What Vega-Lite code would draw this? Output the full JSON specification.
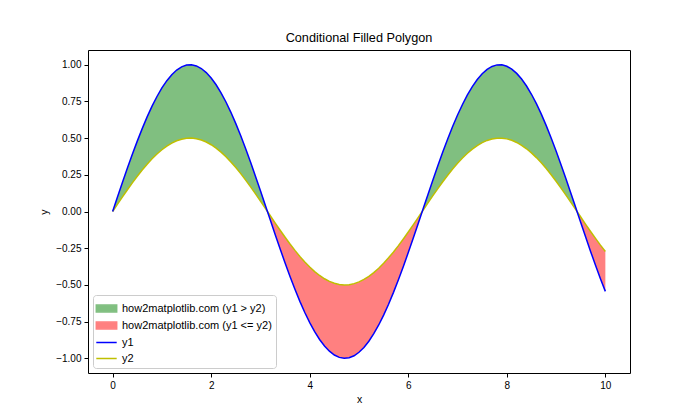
{
  "$schema": "https://vega.github.io/schema/vega-lite/v6.json",
  "width": 542,
  "height": 323,
  "autosize": {"type": "none"},
  "padding": {"left": 88, "top": 50, "right": 70, "bottom": 47},
  "title": {"text": "Conditional Filled Polygon", "fontSize": 12.7, "fontWeight": "normal", "font": "Liberation Sans", "color": "#000", "offset": 5},
  "config": {
    "view": {"stroke": "#000", "strokeWidth": 1},
    "font": "Liberation Sans",
    "axis": {"domain": false, "grid": false, "tickColor": "#000", "tickSize": 4, "labelColor": "#000", "labelFontSize": 10, "labelPadding": 3, "titleColor": "#000", "titleFontSize": 10.5, "titleFontWeight": "normal", "labelFont": "Liberation Sans", "titleFont": "Liberation Sans"}
  },
  "data": {"values": [
    {"x":0,"y1":0,"y2":0,"p":1,"f":"g"},
    {"x":0.1,"y1":0.0998,"y2":0.0499,"p":1,"f":"g"},
    {"x":0.2,"y1":0.1987,"y2":0.0993,"p":1,"f":"g"},
    {"x":0.3,"y1":0.2955,"y2":0.1478,"p":1,"f":"g"},
    {"x":0.4,"y1":0.3894,"y2":0.1947,"p":1,"f":"g"},
    {"x":0.5,"y1":0.4794,"y2":0.2397,"p":1,"f":"g"},
    {"x":0.6,"y1":0.5646,"y2":0.2823,"p":1,"f":"g"},
    {"x":0.7,"y1":0.6442,"y2":0.3221,"p":1,"f":"g"},
    {"x":0.8,"y1":0.7174,"y2":0.3587,"p":1,"f":"g"},
    {"x":0.9,"y1":0.7833,"y2":0.3917,"p":1,"f":"g"},
    {"x":1.0,"y1":0.8415,"y2":0.4207,"p":1,"f":"g"},
    {"x":1.1,"y1":0.8912,"y2":0.4456,"p":1,"f":"g"},
    {"x":1.2,"y1":0.9320,"y2":0.4660,"p":1,"f":"g"},
    {"x":1.3,"y1":0.9636,"y2":0.4818,"p":1,"f":"g"},
    {"x":1.4,"y1":0.9854,"y2":0.4927,"p":1,"f":"g"},
    {"x":1.5,"y1":0.9975,"y2":0.4987,"p":1,"f":"g"},
    {"x":1.6,"y1":0.9996,"y2":0.4998,"p":1,"f":"g"},
    {"x":1.7,"y1":0.9917,"y2":0.4958,"p":1,"f":"g"},
    {"x":1.8,"y1":0.9738,"y2":0.4869,"p":1,"f":"g"},
    {"x":1.9,"y1":0.9463,"y2":0.4732,"p":1,"f":"g"},
    {"x":2.0,"y1":0.9093,"y2":0.4546,"p":1,"f":"g"},
    {"x":2.1,"y1":0.8632,"y2":0.4316,"p":1,"f":"g"},
    {"x":2.2,"y1":0.8085,"y2":0.4043,"p":1,"f":"g"},
    {"x":2.3,"y1":0.7457,"y2":0.3729,"p":1,"f":"g"},
    {"x":2.4,"y1":0.6755,"y2":0.3377,"p":1,"f":"g"},
    {"x":2.5,"y1":0.5985,"y2":0.2992,"p":1,"f":"g"},
    {"x":2.6,"y1":0.5155,"y2":0.2578,"p":1,"f":"g"},
    {"x":2.7,"y1":0.4274,"y2":0.2137,"p":1,"f":"g"},
    {"x":2.8,"y1":0.3350,"y2":0.1675,"p":1,"f":"g"},
    {"x":2.9,"y1":0.2392,"y2":0.1196,"p":1,"f":"g"},
    {"x":3.0,"y1":0.1411,"y2":0.0706,"p":1,"f":"g"},
    {"x":3.1,"y1":0.0416,"y2":0.0208,"p":1,"f":"g"},
    {"x":3.1416,"y1":0,"y2":0,"p":1,"f":"g"},
    {"x":3.1416,"y1":0,"y2":0,"p":2,"f":"r"},
    {"x":3.2,"y1":-0.0584,"y2":-0.0292,"p":2,"f":"r"},
    {"x":3.3,"y1":-0.1577,"y2":-0.0789,"p":2,"f":"r"},
    {"x":3.4,"y1":-0.2555,"y2":-0.1278,"p":2,"f":"r"},
    {"x":3.5,"y1":-0.3508,"y2":-0.1754,"p":2,"f":"r"},
    {"x":3.6,"y1":-0.4425,"y2":-0.2213,"p":2,"f":"r"},
    {"x":3.7,"y1":-0.5298,"y2":-0.2649,"p":2,"f":"r"},
    {"x":3.8,"y1":-0.6119,"y2":-0.3059,"p":2,"f":"r"},
    {"x":3.9,"y1":-0.6878,"y2":-0.3439,"p":2,"f":"r"},
    {"x":4.0,"y1":-0.7568,"y2":-0.3784,"p":2,"f":"r"},
    {"x":4.1,"y1":-0.8183,"y2":-0.4091,"p":2,"f":"r"},
    {"x":4.2,"y1":-0.8716,"y2":-0.4358,"p":2,"f":"r"},
    {"x":4.3,"y1":-0.9162,"y2":-0.4581,"p":2,"f":"r"},
    {"x":4.4,"y1":-0.9516,"y2":-0.4758,"p":2,"f":"r"},
    {"x":4.5,"y1":-0.9775,"y2":-0.4888,"p":2,"f":"r"},
    {"x":4.6,"y1":-0.9937,"y2":-0.4969,"p":2,"f":"r"},
    {"x":4.7,"y1":-0.9999,"y2":-0.4999,"p":2,"f":"r"},
    {"x":4.8,"y1":-0.9962,"y2":-0.4981,"p":2,"f":"r"},
    {"x":4.9,"y1":-0.9825,"y2":-0.4912,"p":2,"f":"r"},
    {"x":5.0,"y1":-0.9589,"y2":-0.4795,"p":2,"f":"r"},
    {"x":5.1,"y1":-0.9258,"y2":-0.4629,"p":2,"f":"r"},
    {"x":5.2,"y1":-0.8835,"y2":-0.4418,"p":2,"f":"r"},
    {"x":5.3,"y1":-0.8323,"y2":-0.4161,"p":2,"f":"r"},
    {"x":5.4,"y1":-0.7728,"y2":-0.3864,"p":2,"f":"r"},
    {"x":5.5,"y1":-0.7055,"y2":-0.3528,"p":2,"f":"r"},
    {"x":5.6,"y1":-0.6313,"y2":-0.3157,"p":2,"f":"r"},
    {"x":5.7,"y1":-0.5507,"y2":-0.2753,"p":2,"f":"r"},
    {"x":5.8,"y1":-0.4646,"y2":-0.2323,"p":2,"f":"r"},
    {"x":5.9,"y1":-0.3739,"y2":-0.1869,"p":2,"f":"r"},
    {"x":6.0,"y1":-0.2794,"y2":-0.1397,"p":2,"f":"r"},
    {"x":6.1,"y1":-0.1822,"y2":-0.0911,"p":2,"f":"r"},
    {"x":6.2,"y1":-0.0831,"y2":-0.0416,"p":2,"f":"r"},
    {"x":6.2832,"y1":0,"y2":0,"p":2,"f":"r"},
    {"x":6.2832,"y1":0,"y2":0,"p":3,"f":"g"},
    {"x":6.3,"y1":0.0168,"y2":0.0084,"p":3,"f":"g"},
    {"x":6.4,"y1":0.1165,"y2":0.0582,"p":3,"f":"g"},
    {"x":6.5,"y1":0.2151,"y2":0.1076,"p":3,"f":"g"},
    {"x":6.6,"y1":0.3115,"y2":0.1558,"p":3,"f":"g"},
    {"x":6.7,"y1":0.4048,"y2":0.2024,"p":3,"f":"g"},
    {"x":6.8,"y1":0.4941,"y2":0.2470,"p":3,"f":"g"},
    {"x":6.9,"y1":0.5784,"y2":0.2892,"p":3,"f":"g"},
    {"x":7.0,"y1":0.6570,"y2":0.3285,"p":3,"f":"g"},
    {"x":7.1,"y1":0.7290,"y2":0.3645,"p":3,"f":"g"},
    {"x":7.2,"y1":0.7937,"y2":0.3968,"p":3,"f":"g"},
    {"x":7.3,"y1":0.8504,"y2":0.4252,"p":3,"f":"g"},
    {"x":7.4,"y1":0.8987,"y2":0.4493,"p":3,"f":"g"},
    {"x":7.5,"y1":0.9380,"y2":0.4690,"p":3,"f":"g"},
    {"x":7.6,"y1":0.9679,"y2":0.4840,"p":3,"f":"g"},
    {"x":7.7,"y1":0.9882,"y2":0.4941,"p":3,"f":"g"},
    {"x":7.8,"y1":0.9985,"y2":0.4992,"p":3,"f":"g"},
    {"x":7.9,"y1":0.9989,"y2":0.4994,"p":3,"f":"g"},
    {"x":8.0,"y1":0.9894,"y2":0.4947,"p":3,"f":"g"},
    {"x":8.1,"y1":0.9699,"y2":0.4850,"p":3,"f":"g"},
    {"x":8.2,"y1":0.9407,"y2":0.4703,"p":3,"f":"g"},
    {"x":8.3,"y1":0.9022,"y2":0.4511,"p":3,"f":"g"},
    {"x":8.4,"y1":0.8546,"y2":0.4273,"p":3,"f":"g"},
    {"x":8.5,"y1":0.7985,"y2":0.3992,"p":3,"f":"g"},
    {"x":8.6,"y1":0.7344,"y2":0.3672,"p":3,"f":"g"},
    {"x":8.7,"y1":0.6630,"y2":0.3315,"p":3,"f":"g"},
    {"x":8.8,"y1":0.5849,"y2":0.2924,"p":3,"f":"g"},
    {"x":8.9,"y1":0.5010,"y2":0.2505,"p":3,"f":"g"},
    {"x":9.0,"y1":0.4121,"y2":0.2061,"p":3,"f":"g"},
    {"x":9.1,"y1":0.3191,"y2":0.1596,"p":3,"f":"g"},
    {"x":9.2,"y1":0.2229,"y2":0.1115,"p":3,"f":"g"},
    {"x":9.3,"y1":0.1245,"y2":0.0623,"p":3,"f":"g"},
    {"x":9.4,"y1":0.0248,"y2":0.0124,"p":3,"f":"g"},
    {"x":9.4248,"y1":0,"y2":0,"p":3,"f":"g"},
    {"x":9.4248,"y1":0,"y2":0,"p":4,"f":"r"},
    {"x":9.5,"y1":-0.0752,"y2":-0.0376,"p":4,"f":"r"},
    {"x":9.6,"y1":-0.1743,"y2":-0.0872,"p":4,"f":"r"},
    {"x":9.7,"y1":-0.2718,"y2":-0.1359,"p":4,"f":"r"},
    {"x":9.8,"y1":-0.3665,"y2":-0.1833,"p":4,"f":"r"},
    {"x":9.9,"y1":-0.4575,"y2":-0.2288,"p":4,"f":"r"},
    {"x":10.0,"y1":-0.5440,"y2":-0.2720,"p":4,"f":"r"}
  ]},
  "layer": [
    {
      "mark": {"type": "area"},
      "encoding": {
        "x": {"field": "x", "type": "quantitative", "scale": {"domain": [-0.5, 10.5], "nice": false, "zero": false}, "axis": {"values": [0, 2, 4, 6, 8, 10], "title": "x", "titlePadding": 4}},
        "y": {"field": "y1", "type": "quantitative", "stack": null, "scale": {"domain": [-1.1, 1.1], "nice": false, "zero": false}, "axis": {"values": [-1, -0.75, -0.5, -0.25, 0, 0.25, 0.5, 0.75, 1], "format": ".2f", "title": "y", "titlePadding": 6}},
        "y2": {"field": "y2"},
        "detail": {"field": "p", "type": "nominal"},
        "color": {"field": "f", "type": "nominal", "scale": {"domain": ["g", "r", "y1", "y2"], "range": ["#80bf80", "#ff8080", "#0000ff", "#bfbf00"]},
          "legend": {
            "title": null, "orient": "bottom-left", "offset": 5,
            "labelFontSize": 11, "labelColor": "#000", "labelFont": "Liberation Sans",
            "labelExpr": "datum.label == 'g' ? 'how2matplotlib.com (y1 > y2)' : datum.label == 'r' ? 'how2matplotlib.com (y1 <= y2)' : datum.label",
            "strokeColor": "#cccccc", "fillColor": "rgba(255,255,255,0.8)", "cornerRadius": 3, "padding": 4,
            "symbolSize": 289, "rowPadding": 1, "labelOffset": 6,
            "encode": {"symbols": {"update": {
              "shape": {"signal": "datum.value == 'g' || datum.value == 'r' ? 'M-1.2,-0.4H1.2V0.4H-1.2Z' : 'M-1.2,0H1.2'"},
              "fill": {"signal": "datum.value == 'g' ? '#80bf80' : datum.value == 'r' ? '#ff8080' : 'transparent'"},
              "stroke": {"signal": "datum.value == 'g' ? '#80bf80' : datum.value == 'r' ? '#ff8080' : datum.value == 'y1' ? '#0000ff' : '#bfbf00'"},
              "strokeWidth": {"value": 1.5},
              "opacity": {"value": 1},
              "fillOpacity": {"value": 1}
            }}}
          }
        }
      }
    },
    {
      "mark": {"type": "line", "strokeWidth": 1.5},
      "encoding": {
        "x": {"field": "x", "type": "quantitative"},
        "y": {"field": "y2", "type": "quantitative"},
        "color": {"datum": "y2", "legend": null}
      }
    },
    {
      "mark": {"type": "line", "strokeWidth": 1.5},
      "encoding": {
        "x": {"field": "x", "type": "quantitative"},
        "y": {"field": "y1", "type": "quantitative"},
        "color": {"datum": "y1", "legend": null}
      }
    }
  ]
}
